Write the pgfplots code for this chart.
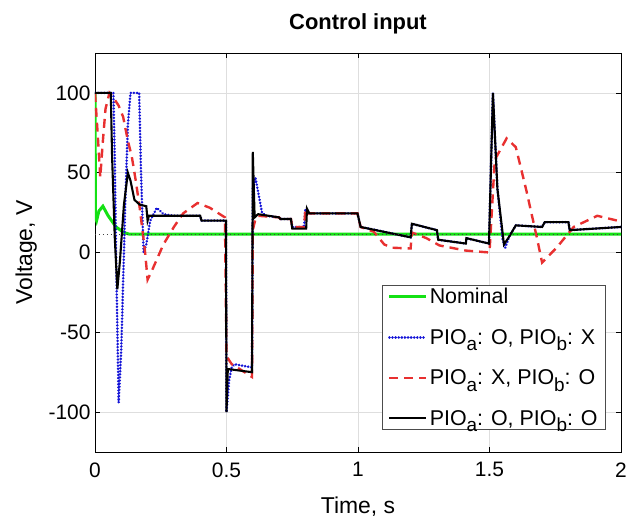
\documentclass[border=0pt]{standalone}
\usepackage{fontspec}
\setmainfont{Liberation Sans}
\usepackage{pgfplots}
\pgfplotsset{compat=1.18}
\usetikzlibrary{calc}
\definecolor{nomgreen}{RGB}{20,225,20}
\definecolor{dotblue}{RGB}{20,20,215}
\definecolor{dashred}{RGB}{232,48,48}
\definecolor{gridgray}{RGB}{222,222,222}
\newcommand{\sub}[1]{\raisebox{-6.5bp}{\fontsize{19}{19}\selectfont #1}}

\begin{document}
\begin{tikzpicture}
\begin{axis}[
  scale only axis, width=526bp, height=399bp,
  xmin=0, xmax=2, ymin=-125, ymax=125,
  xtick={0,0.5,1,1.5,2}, ytick={-100,-50,0,50,100},
  grid=major, grid style={gridgray, line width=0.6pt},
  tick align=inside, major tick length=5bp,
  tick style={black, line width=0.6pt},
  axis line style={black, line width=0.8pt},
  /pgf/number format/assume math mode=true,
  ticklabel style={font=\fontsize{21}{24}\selectfont},
  xticklabel shift=7bp,
  yticklabel style={xshift=-1bp},
  title={\bfseries Control input},
  title style={font=\fontsize{22}{25}\selectfont, yshift=9bp},
  xlabel={Time, s}, ylabel={Voltage, V},
  label style={font=\fontsize{23}{26}\selectfont},
  xlabel style={yshift=-13bp},
  ylabel style={yshift=5bp},
  legend cell align=left,
  legend style={at={(0.9715,0.055)}, anchor=south east, draw=black!70,
    line width=0.8pt, font=\fontsize{21.5}{24}\selectfont,
    row sep=20bp, inner xsep=6bp, inner ysep=1bp},
  legend image code/.code={\draw[#1] plot coordinates {(0cm,0cm) (0.65cm,0cm) (1.3cm,0cm)};},
]
% nominal
\addplot[nomgreen, line width=3pt] coordinates {
(0,100) (0.002,22) (0.006,20) (0.015,26) (0.03,29) (0.05,23) (0.08,16)
(0.11,12.5) (0.13,11.5) (2,11.5)};
% PIOa: O, PIOb: X
\addplot[dotblue, line width=2.8pt, line cap=round, dash pattern=on 0.01pt off 3.1pt] coordinates {
(0,100) (0.07,100) (0.075,60) (0.08,0) (0.09,-94) (0.1,-60) (0.115,30)
(0.125,80) (0.135,100) (0.168,100) (0.175,50) (0.185,0) (0.195,5) (0.21,20)
(0.235,28) (0.26,24) (0.3,23) (0.4,23) (0.405,20) (0.498,20) (0.5,-100)
(0.51,-80) (0.52,-72) (0.53,-70) (0.597,-72) (0.6,40) (0.61,47) (0.635,25)
(0.65,23) (0.7,22) (0.705,21) (0.745,21) (0.75,16) (0.795,16) (0.8,27)
(0.805,24.5) (0.998,24.5) (1.01,16) (1.2,9.5) (1.205,18) (1.3,14) (1.305,8)
(1.41,5.6) (1.412,9) (1.498,5.6) (1.513,100) (1.53,40) (1.55,8) (1.56,3)
(1.575,10) (1.6,17) (1.7,16) (1.71,19) (1.8,19) (1.805,14) (2,16)};
% PIOa: X, PIOb: O
\addplot[dashred, line width=2.4pt, dash pattern=on 9pt off 6pt] coordinates {
(0,100) (0.01,75) (0.02,47) (0.03,70) (0.04,90) (0.055,100) (0.07,97)
(0.09,92) (0.107,85) (0.125,70) (0.14,60) (0.155,45) (0.17,28) (0.19,1)
(0.2,-17) (0.22,-10) (0.26,5) (0.3,16) (0.335,24.5) (0.39,31) (0.437,28)
(0.494,22) (0.5,-65) (0.52,-70) (0.55,-73) (0.597,-78) (0.6,14) (0.61,21)
(0.62,23) (0.7,22) (0.705,21) (0.745,21) (0.75,16) (0.795,16) (0.8,27)
(0.805,24.5) (0.998,24.5) (1.01,16) (1.06,13) (1.1,5) (1.13,3) (1.2,2.5)
(1.205,12.5) (1.26,9) (1.31,4.4) (1.41,1.2) (1.5,0) (1.52,58) (1.565,71.5)
(1.6,66) (1.64,39) (1.68,9.4) (1.7,-6.3) (1.755,3) (1.82,16) (1.91,23)
(1.985,20) (2,19)};
% PIOa: O, PIOb: O
\addplot[black, line width=2.1pt] coordinates {
(0,100) (0.06,100) (0.065,60) (0.075,10) (0.085,-23) (0.095,-5) (0.11,30)
(0.125,50) (0.135,45) (0.15,33) (0.17,30) (0.195,29) (0.2,20) (0.205,23)
(0.4,23) (0.405,20) (0.498,20) (0.5,-100) (0.505,-73) (0.597,-75) (0.6,63)
(0.607,22) (0.62,24) (0.7,22) (0.705,21) (0.745,21) (0.75,15) (0.803,15)
(0.806,27.5) (0.815,24.5) (0.998,24.5) (1.01,16) (1.2,9.5) (1.205,18)
(1.3,14) (1.305,8) (1.41,5.6) (1.412,9) (1.498,5.6) (1.513,100) (1.53,40)
(1.555,5) (1.575,10) (1.6,17) (1.7,16) (1.71,19) (1.8,19) (1.805,14) (2,16)};
% reference level
\addplot[black!75, line width=1pt, dash pattern=on 1pt off 3pt, forget plot] coordinates {(0,11.5) (2,11.5)};
\legend{Nominal,
  {PIO\sub{a}: O, PIO\sub{b}: X},
  {PIO\sub{a}: X, PIO\sub{b}: O},
  {PIO\sub{a}: O, PIO\sub{b}: O}}
\coordinate (sw) at (rel axis cs:0,0);
\coordinate (ne) at (rel axis cs:1,1);
\end{axis}
\pgfresetboundingbox
\path[use as bounding box] ($(sw)+(-95bp,-70bp)$) rectangle ($(ne)+(8bp,53bp)$);
\end{tikzpicture}
\end{document}
